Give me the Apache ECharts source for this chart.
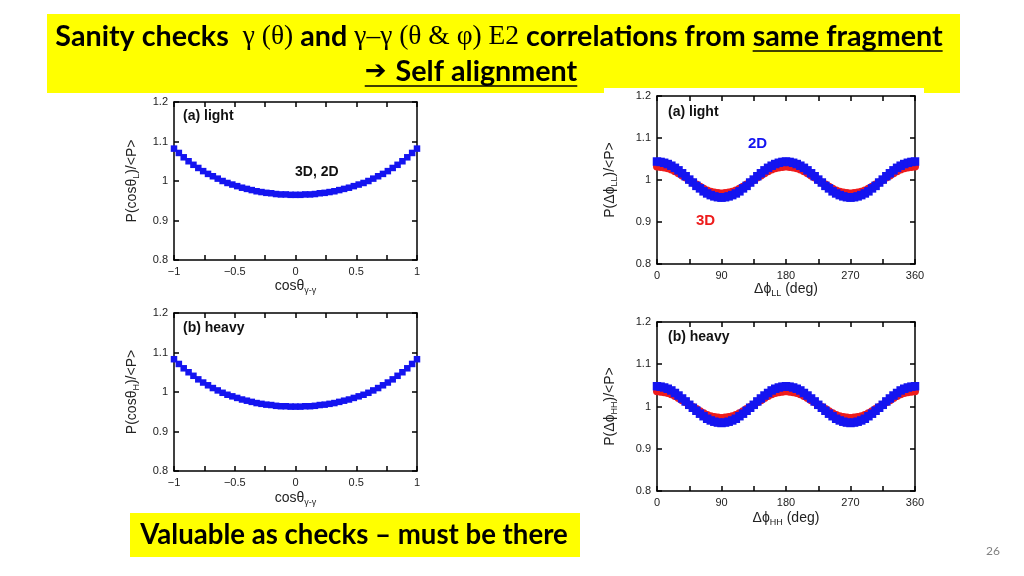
<!DOCTYPE html>
<html><head><meta charset="utf-8">
<script src="https://cdn.jsdelivr.net/npm/echarts@6/dist/echarts.min.js"></script>
<style>html,body{margin:0;padding:0;background:#fff}#c{width:1024px;height:576px}</style>
</head><body><div id="c"></div><script>
// ---- data ----
const cosTheta = [-1,-0.96,-0.92,-0.88,-0.84,-0.8,-0.76,-0.72,-0.68,-0.64,-0.6,-0.56,-0.52,-0.48,-0.44,-0.4,-0.36,-0.32,-0.28,-0.24,-0.2,-0.16,-0.12,-0.08,-0.04,0,
  0.04,0.08,0.12,0.16,0.2,0.24,0.28,0.32,0.36,0.4,0.44,0.48,0.52,0.56,0.6,0.64,0.68,0.72,0.76,0.8,0.84,0.88,0.92,0.96,1];
const lightCos = [1.082,1.071,1.060,1.050,1.041,1.033,1.025,1.018,1.012,1.006,1.000,0.995,0.991,0.987,0.983,0.980,0.977,0.974,0.972,0.970,0.969,0.967,0.966,0.966,0.965,0.965,
  0.965,0.966,0.966,0.967,0.969,0.970,0.972,0.974,0.977,0.980,0.983,0.987,0.991,0.995,1.000,1.006,1.012,1.018,1.025,1.033,1.041,1.050,1.060,1.071,1.082];
const heavyCos = [1.083,1.071,1.060,1.050,1.041,1.032,1.024,1.017,1.010,1.004,0.998,0.993,0.989,0.985,0.981,0.978,0.975,0.972,0.970,0.968,0.967,0.965,0.964,0.964,0.963,0.963,
  0.963,0.964,0.964,0.965,0.967,0.968,0.970,0.972,0.975,0.978,0.981,0.985,0.989,0.993,0.998,1.004,1.010,1.017,1.024,1.032,1.041,1.050,1.060,1.071,1.083];
const phi = [0,5,10,15,20,25,30,35,40,45,50,55,60,65,70,75,80,85,90,95,100,105,110,115,120,125,130,135,140,145,150,155,160,165,170,175,180,
  185,190,195,200,205,210,215,220,225,230,235,240,245,250,255,260,265,270,275,280,285,290,295,300,305,310,315,320,325,330,335,340,345,350,355,360];
const light2D = [1.044,1.043,1.041,1.038,1.034,1.029,1.023,1.016,1.009,1.001,0.994,0.986,0.980,0.973,0.968,0.964,0.961,0.959,0.958,
  0.959,0.961,0.964,0.968,0.973,0.980,0.986,0.994,1.001,1.009,1.016,1.023,1.029,1.034,1.038,1.041,1.043,1.044,
  1.043,1.041,1.038,1.034,1.029,1.023,1.016,1.009,1.001,0.994,0.986,0.980,0.973,0.968,0.964,0.961,0.959,0.958,
  0.959,0.961,0.964,0.968,0.973,0.980,0.986,0.994,1.001,1.009,1.016,1.023,1.029,1.034,1.038,1.041,1.043,1.044];
const light3D = [1.032,1.031,1.030,1.028,1.025,1.021,1.016,1.011,1.006,1.000,0.994,0.989,0.984,0.979,0.975,0.972,0.970,0.969,0.968,
  0.969,0.970,0.972,0.975,0.979,0.984,0.989,0.994,1.000,1.006,1.011,1.016,1.021,1.025,1.028,1.030,1.031,1.032,
  1.031,1.030,1.028,1.025,1.021,1.016,1.011,1.006,1.000,0.994,0.989,0.984,0.979,0.975,0.972,0.970,0.969,0.968,
  0.969,0.970,0.972,0.975,0.979,0.984,0.989,0.994,1.000,1.006,1.011,1.016,1.021,1.025,1.028,1.030,1.031,1.032];
const heavy2D = [1.048,1.047,1.045,1.042,1.038,1.032,1.026,1.019,1.012,1.004,0.997,0.990,0.983,0.977,0.971,0.967,0.964,0.962,0.961,
  0.962,0.964,0.967,0.971,0.977,0.983,0.990,0.997,1.004,1.012,1.019,1.026,1.032,1.038,1.042,1.045,1.047,1.048,
  1.047,1.045,1.042,1.038,1.032,1.026,1.019,1.012,1.004,0.997,0.990,0.983,0.977,0.971,0.967,0.964,0.962,0.961,
  0.962,0.964,0.967,0.971,0.977,0.983,0.990,0.997,1.004,1.012,1.019,1.026,1.032,1.038,1.042,1.045,1.047,1.048];
const heavy3D = [1.036,1.035,1.034,1.032,1.029,1.025,1.020,1.015,1.010,1.004,0.999,0.994,0.989,0.984,0.980,0.977,0.975,0.974,0.973,
  0.974,0.975,0.977,0.980,0.984,0.989,0.994,0.999,1.004,1.010,1.015,1.020,1.025,1.029,1.032,1.034,1.035,1.036,
  1.035,1.034,1.032,1.029,1.025,1.020,1.015,1.010,1.004,0.999,0.994,0.989,0.984,0.980,0.977,0.975,0.974,0.973,
  0.974,0.975,0.977,0.980,0.984,0.989,0.994,0.999,1.004,1.010,1.015,1.020,1.025,1.029,1.032,1.034,1.035,1.036];
const cosRange = [-1, 1, 0.5];
const phiRange = [0, 360, 90];
const pRange = [0.8, 1.2, 0.1];
const yNames = ['{a|P(cosθ}{s|L}{a|)/<P>}', '{a|P(Δϕ}{s|LL}{a|)/<P>}', '{a|P(cosθ}{s|H}{a|)/<P>}', '{a|P(Δϕ}{s|HH}{a|)/<P>}'];
const xNames = ['{a|cosθ}{s|γ-γ}', '{a|Δϕ}{s|LL}{a| (deg)}', '{a|cosθ}{s|γ-γ}', '{a|Δϕ}{s|HH}{a| (deg)}'];
const titleTokens = [['b','Sanity checks  '],['g','γ (θ)'],['b',' and '],['g','γ–γ (θ & φ) E2'],['b',' correlations from '],['u','same fragment']];

// ---- styling / layout ----
const BLUE = '#1414f0', RED = '#ee1c1c';
const AX = 'Liberation Sans';
const grids = [
  {left:174, top:102, width:243, height:158},
  {left:657, top:96, width:258, height:168},
  {left:174, top:313, width:243, height:158},
  {left:657, top:322, width:258, height:169}
];
const xGaps = [17, 15, 18, 18];
const yGaps = [33, 38, 33, 38];
const nameRich = {
  a: {fontSize:14, fontFamily:AX, color:'#222', lineHeight:18},
  s: {fontSize:9, fontFamily:AX, color:'#222', lineHeight:9, verticalAlign:'bottom'}
};
const lineSt = {color:'#000', width:1.5};
function axis(dir, gi, rng, pos, labels, name, gap, isCos) {
  const a = {
    type:'value', gridIndex:gi, min:rng[0], max:rng[1], interval:rng[2], position:pos,
    axisLine:{show:true, onZero:false, lineStyle:lineSt},
    axisTick:{show:true, inside:true, length:5, lineStyle:lineSt},
    minorTick:{show: dir==='x', splitNumber:2, length:5, lineStyle:lineSt},
    splitLine:{show:false}, minorSplitLine:{show:false},
    axisLabel:{show:labels, color:'#222', fontSize:11, fontFamily:AX, margin:6,
      formatter: v => isCos ? String(v).replace('-', '\u2212') : (dir==='y' ? (Math.abs(v-1)<1e-9 ? '1' : v.toFixed(1)) : String(v))}
  };
  if (name) {
    a.name = name; a.nameLocation = 'middle'; a.nameGap = gap;
    a.nameTextStyle = {rich: nameRich};
    if (dir === 'y') a.nameRotate = 90;
  }
  return a;
}
const xAxes = [], yAxes = [];
const xr = [cosRange, phiRange, cosRange, phiRange];
for (let i = 0; i < 4; i++) {
  const isCos = (i % 2 === 0);
  xAxes.push(axis('x', i, xr[i], 'bottom', true, xNames[i], xGaps[i], isCos));
  xAxes.push(axis('x', i, xr[i], 'top', false, null, 0, isCos));
  yAxes.push(axis('y', i, pRange, 'left', true, yNames[i], yGaps[i], false));
  yAxes.push(axis('y', i, pRange, 'right', false, null, 0, false));
}
function sc(idx, xs, ys, color, symbol, size) {
  return {type:'scatter', xAxisIndex:2*idx, yAxisIndex:2*idx, symbol:symbol, symbolSize:size,
    itemStyle:{color:color, opacity:1}, data: xs.map((x,k)=>[x, ys[k]]), silent:true};
}
const series = [
  sc(0, cosTheta, lightCos, BLUE, 'rect', 6.5),
  sc(1, phi, light3D, RED, 'circle', 8),
  sc(1, phi, light2D, BLUE, 'rect', 8.5),
  sc(2, cosTheta, heavyCos, BLUE, 'rect', 6.5),
  sc(3, phi, heavy3D, RED, 'circle', 8),
  sc(3, phi, heavy2D, BLUE, 'rect', 8.5)
];

// title measurement (for centring and underline)
const TF = 'Lato';
const TS = 28.7;
const fontOf = {b:'bold '+TS+'px Lato', u:'bold '+TS+'px Lato', g:'27.5px "Liberation Serif"'};
const mc = document.createElement('canvas').getContext('2d');
function tw(font, s){ mc.font = font; return mc.measureText(s).width; }
let total = 0; const starts = [];
titleTokens.forEach(t => { starts.push(total); total += tw(fontOf[t[0]], t[1]); });
const t1Left = 499 - total/2;
const uIdx = titleTokens.length - 1;
const uX1 = t1Left + starts[uIdx], uX2 = t1Left + total;
const richTitle = titleTokens.map(t => '{' + t[0] + '|' + t[1] + '}').join('');
const line2Font = 'bold '+TS+'px Lato', arrowFont = 'bold 26px "DejaVu Sans"';
const l2w = tw(arrowFont, '\u2794 ') + tw(line2Font, 'Self alignment');
const l2Left = 471 - l2w/2;

function lbl(x, y, text, color, size) {
  return {type:'text', left:x, top:y, z:10, style:{text:text, fill:color||'#111', font:'bold '+(size||14)+'px "Liberation Sans"'}};
}
const graphic = [
  {type:'rect', shape:{x:47, y:14, width:913, height:79}, style:{fill:'#ffff00'}, z:-2},
  {type:'rect', shape:{x:604, y:88, width:320, height:6}, style:{fill:'#ffffff'}, z:-1},
  {type:'text', x:t1Left, y:37, z:5, style:{
    text: richTitle, verticalAlign:'middle',
    rich:{ b:{fontFamily:TF, fontWeight:'bold', fontSize:TS, fill:'#000'},
           u:{fontFamily:TF, fontWeight:'bold', fontSize:TS, fill:'#000'},
           g:{fontFamily:'Liberation Serif', fontSize:27.5, fill:'#000'} } }},
  {type:'line', shape:{x1:uX1, y1:51, x2:uX2, y2:51}, style:{stroke:'#000', lineWidth:1.5}, z:5},
  {type:'text', x:l2Left, y:72, z:5, style:{
    text:'{r|\u2794 }{b|Self alignment}', verticalAlign:'middle',
    rich:{ b:{fontFamily:TF, fontWeight:'bold', fontSize:TS, fill:'#000'},
           r:{fontFamily:'DejaVu Sans', fontWeight:'bold', fontSize:26, fill:'#000'} } }},
  {type:'line', shape:{x1:l2Left, y1:86, x2:l2Left + l2w, y2:86}, style:{stroke:'#000', lineWidth:1.5}, z:5},
  lbl(183, 109, '(a) light'),
  lbl(295, 165, '3D, 2D'),
  lbl(668, 105, '(a) light'),
  lbl(748, 136, '2D', BLUE, 15),
  lbl(696, 213, '3D', RED, 15),
  lbl(183, 321, '(b) heavy'),
  lbl(668, 330, '(b) heavy'),
  {type:'rect', shape:{x:130, y:513, width:450, height:44}, style:{fill:'#ffff00'}, z:-2},
  {type:'text', x:354, y:535, z:5, style:{text:'Valuable as checks \u2013 must be there', align:'center', verticalAlign:'middle',
    font:'bold 27.6px Lato', fill:'#000'}},
  {type:'text', x:993, y:551, z:5, style:{text:'26', align:'center', verticalAlign:'middle', font:'12px Lato', fill:'#808080'}}
];
const chart = echarts.init(document.getElementById('c'), null, {renderer:'canvas'});
chart.setOption({
  animation:false, backgroundColor:'#fff',
  grid: grids, xAxis: xAxes, yAxis: yAxes, series: series, graphic: graphic
});
</script></body></html>
